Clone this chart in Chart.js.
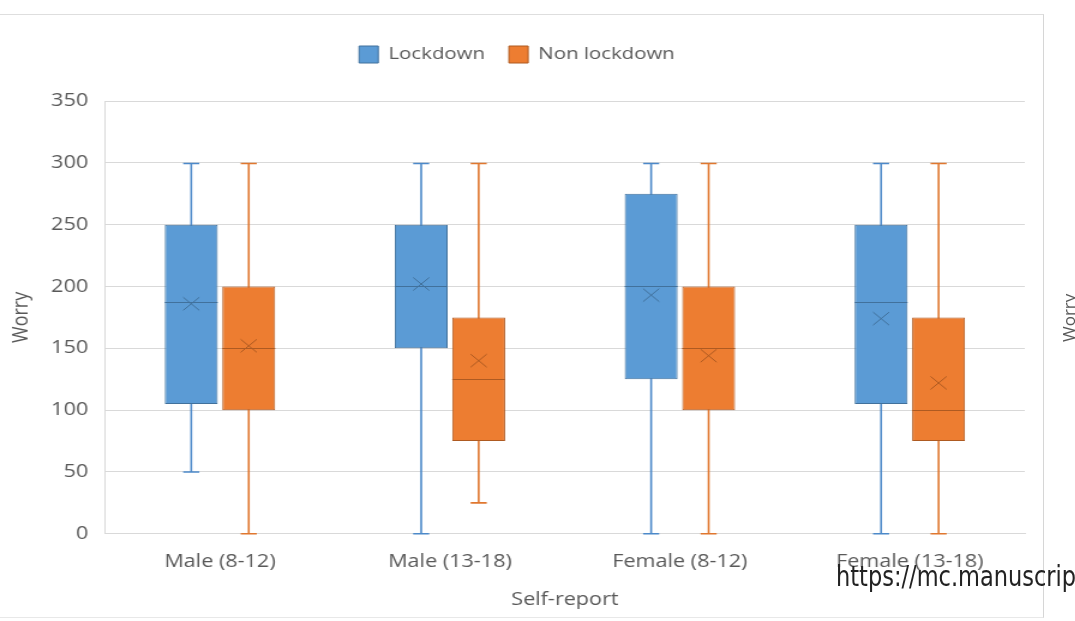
<!DOCTYPE html>
<html>
<head>
<meta charset="utf-8">
<script src="https://cdn.jsdelivr.net/npm/chart.js@4.4.1/dist/chart.umd.min.js"></script>
<style>
  body { margin: 0; background: #fff; }
  #wrap { position: relative; width: 1075px; height: 621px; overflow: hidden; }
  #frame { position: absolute; left: -2px; top: 14px; width: 1045px; height: 602px;
           border-top: 1px solid #dedede; border-right: 1px solid #d6d6d6; border-bottom: 1px solid #e8e8e8; }
  /* the source image is stretched sideways, so the chart is drawn narrow and widened */
  #chartBox { position: absolute; left: 0; top: 0; width: 896px; height: 621px;
              transform: scaleX(1.2); transform-origin: left top; }
  #url { position: absolute; left: 836px; top: 561px; font-family: "Liberation Sans Narrow", "DejaVu Sans Condensed", sans-serif;
         font-size: 25px; color: #222; white-space: nowrap; transform: scaleY(1.1); transform-origin: left top; }
  #worry2 { position: absolute; left: 1057px; top: 342px; transform: rotate(-90deg); transform-origin: left top;
            font-family: "Open Sans", sans-serif; font-size: 17px; color: #595959; }
</style>
</head>
<body>
<div id="wrap">
  <div id="frame"></div>
  <div id="chartBox"><canvas id="box" width="896" height="621"></canvas></div>
  <div id="worry2">Worry</div>
  <div id="url">https://mc.manuscrip</div>
</div>
<script>
const categories = ['Male (8-12)', 'Male (13-18)', 'Female (8-12)', 'Female (13-18)'];
const seriesNames = ['Lockdown', 'Non lockdown'];

const lockMin    = [50, 0, 0, 0];
const lockQ1     = [105, 150, 125, 105];
const lockMedian = [187.5, 200, 200, 187.5];
const lockQ3     = [250, 250, 275, 250];
const lockMax    = [300, 300, 300, 300];
const lockMean   = [186, 202, 193, 174];

const nonMin    = [0, 25, 0, 0];
const nonQ1     = [100, 75, 100, 75];
const nonMedian = [150, 125, 150, 100];
const nonQ3     = [200, 175, 200, 175];
const nonMax    = [300, 300, 300, 300];
const nonMean   = [152, 140, 144, 122];

const yTicks = [0, 50, 100, 150, 200, 250, 300, 350];

const fills   = ['#5B9BD5', '#ED7D31'];
const borders = ['#41719C', '#AE5A21'];
const whisk   = ['#4C89C9', '#E0772F'];

const stats = [
  { min: lockMin, med: lockMedian, max: lockMax, mean: lockMean },
  { min: nonMin, med: nonMedian, max: nonMax, mean: nonMean }
];

/* whiskers behind the boxes, median + mean marks on top */
const boxExtras = {
  id: 'boxExtras',
  beforeDatasetsDraw(chart) {
    const ctx = chart.ctx, y = chart.scales.y;
    ctx.save();
    ctx.lineWidth = 1.6;
    stats.forEach((s, d) => {
      chart.getDatasetMeta(d).data.forEach((bar, i) => {
        const x = bar.x;
        const yMin = y.getPixelForValue(s.min[i]);
        const yMax = Math.round(y.getPixelForValue(s.max[i])) + 0.5;
        ctx.strokeStyle = whisk[d];
        ctx.beginPath();
        ctx.moveTo(x, yMin); ctx.lineTo(x, yMax);
        ctx.moveTo(x - 6.7, yMax); ctx.lineTo(x + 6.7, yMax);
        ctx.moveTo(x - 6.7, yMin); ctx.lineTo(x + 6.7, yMin);
        ctx.stroke();
      });
    });
    ctx.restore();
  },
  afterDatasetsDraw(chart) {
    const ctx = chart.ctx, y = chart.scales.y;
    ctx.save();
    ctx.lineWidth = 1;
    stats.forEach((s, d) => {
      chart.getDatasetMeta(d).data.forEach((bar, i) => {
        const x = bar.x, w = bar.width / 2;
        const ym = Math.round(y.getPixelForValue(s.med[i])) + 0.5;
        ctx.strokeStyle = borders[d];
        ctx.beginPath();
        ctx.moveTo(x - w, ym); ctx.lineTo(x + w, ym);
        ctx.stroke();
        const yv = y.getPixelForValue(s.mean[i]);
        ctx.beginPath();
        ctx.moveTo(x - 6.7, yv - 6.5); ctx.lineTo(x + 6.7, yv + 6.5);
        ctx.moveTo(x - 6.7, yv + 6.5); ctx.lineTo(x + 6.7, yv - 6.5);
        ctx.stroke();
      });
    });
    ctx.restore();
  }
};

/* extra room under the legend */
const legendGap = {
  id: 'legendGap',
  beforeLayout(chart) {
    const lg = chart.legend;
    if (!lg || lg._gapDone) return;
    const fit = lg.fit;
    lg.fit = function () { fit.call(this); this.height += 28; };
    lg._gapDone = true;
  }
};

const font = { family: '"Open Sans", sans-serif', size: 18 };

new Chart(document.getElementById('box'), {
  type: 'bar',
  data: {
    labels: categories,
    datasets: [
      {
        label: seriesNames[0],
        data: categories.map((c, i) => [lockQ1[i], lockQ3[i]]),
        backgroundColor: fills[0], borderColor: borders[0], borderWidth: 1, borderSkipped: false
      },
      {
        label: seriesNames[1],
        data: categories.map((c, i) => [nonQ1[i], nonQ3[i]]),
        backgroundColor: fills[1], borderColor: borders[1], borderWidth: 1, borderSkipped: false
      }
    ]
  },
  options: {
    responsive: false,
    animation: false,
    devicePixelRatio: 1,
    categoryPercentage: 0.5,
    barPercentage: 0.92,
    layout: { padding: { left: 7.5, right: 42, top: 26, bottom: 10 } },
    scales: {
      x: {
        grid: { display: false, drawTicks: false },
        border: { color: '#d9d9d9' },
        ticks: { color: '#595959', font, padding: 17 },
        title: { display: true, text: 'Self-report', color: '#595959', font, padding: 0 }
      },
      y: {
        min: 0, max: 350,
        afterBuildTicks(scale) { scale.ticks = yTicks.map(v => ({ value: v })); },
        afterFit(scale) { scale.width = 80; },
        grid: { color: '#d9d9d9', drawTicks: false },
        border: { color: '#d9d9d9' },
        ticks: { color: '#595959', font, padding: 14 },
        title: { display: true, text: 'Worry', color: '#595959', font, padding: 0 }
      }
    },
    plugins: {
      legend: {
        position: 'top',
        labels: { color: '#595959', font: { family: font.family, size: 17 }, boxWidth: 16, boxHeight: 17, padding: 20 }
      },
      tooltip: { enabled: false }
    }
  },
  plugins: [boxExtras, legendGap]
});
</script>
</body>
</html>
